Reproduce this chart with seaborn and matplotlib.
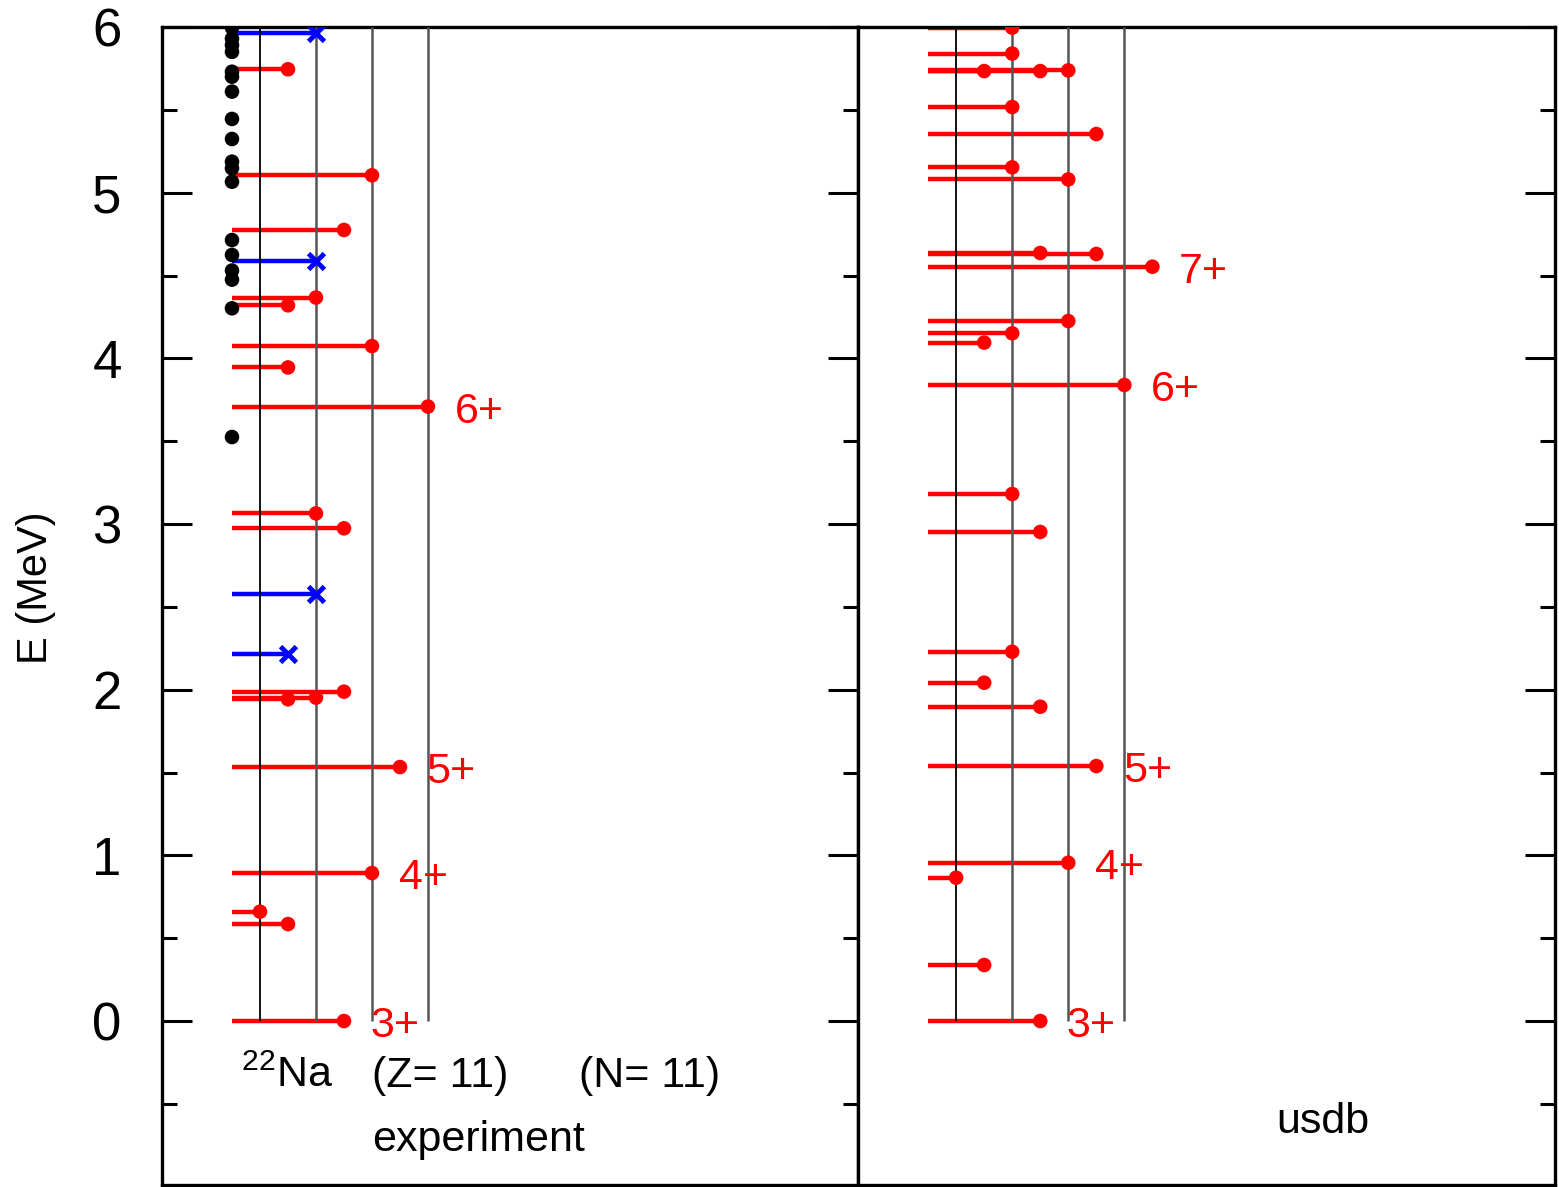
import numpy as np
import pandas as pd
import matplotlib
matplotlib.use("Agg")
import matplotlib.pyplot as plt
from matplotlib.ticker import MultipleLocator
import seaborn as sns

# ---------------- data ----------------
# experiment (22Na), positive parity levels: energy (MeV) and spin J
exp_pos_E = [0.000, 0.585, 0.660, 0.893, 1.533, 1.942, 1.952, 1.988, 2.974, 3.064,
             3.709, 3.945, 4.074, 4.320, 4.367, 4.775, 5.105, 5.745]
exp_pos_J = [3, 1, 0, 4, 5, 1, 2, 3, 3, 2, 6, 1, 4, 1, 2, 3, 4, 1]
# experiment, negative parity levels
exp_neg_E = [2.215, 2.577, 4.587, 5.966]
exp_neg_J = [1, 2, 2, 2]
# experiment, levels without spin assignment
exp_unk_E = [3.525, 4.302, 4.475, 4.530, 4.624, 4.714, 5.066, 5.147, 5.187, 5.324,
             5.445, 5.610, 5.700, 5.730, 5.850, 5.890, 5.930, 5.995]
# yrast labels (experiment)
exp_lab_E = [0.000, 0.893, 1.533, 3.709]
exp_lab_J = [3, 4, 5, 6]
exp_lab_T = ["3+", "4+", "5+", "6+"]

# usdb shell model
usdb_E = [0.000, 0.338, 0.865, 0.955, 1.539, 1.897, 2.042, 2.229, 2.952, 3.181,
          3.839, 4.095, 4.151, 4.225, 4.553, 4.636, 4.630, 5.080, 5.153, 5.354,
          5.517, 5.734, 5.734, 5.738, 5.840, 5.996]
usdb_J = [3, 1, 0, 4, 5, 3, 1, 2, 3, 2,
          6, 1, 2, 4, 7, 3, 5, 4, 2, 5,
          2, 1, 3, 4, 2, 2]
usdb_lab_E = [0.000, 0.955, 1.539, 3.839, 4.553]
usdb_lab_J = [3, 4, 5, 6, 7]
usdb_lab_T = ["3+", "4+", "5+", "6+", "7+"]

guide_J = [0, 2, 4, 6]

# ---------------- style ----------------
sns.set_theme(style="white")
plt.rcParams["font.family"] = ["Liberation Sans", "DejaVu Sans"]
plt.rcParams["mathtext.fontset"] = "custom"
plt.rcParams["mathtext.rm"] = "Liberation Sans"
plt.rcParams["mathtext.it"] = "Liberation Sans:italic"
plt.rcParams["mathtext.bf"] = "Liberation Sans:bold"
plt.rcParams["text.color"] = "black"
plt.rcParams["axes.labelcolor"] = "black"

W, H = 1559, 1187
fig = plt.figure(figsize=(W / 100, H / 100), dpi=100)
top_px, bot_px = 27, 1185
ax1 = fig.add_axes([162 / W, 1 - bot_px / H, 696 / W, (bot_px - top_px) / H])
ax2 = fig.add_axes([858 / W, 1 - bot_px / H, 697 / W, (bot_px - top_px) / H])

RED = "#ff0000"
BLUE = "#0000ff"
XSTART = -1
ylo = (1021 - bot_px) / 165.67

def draw_guides(ax):
    for j in guide_J:
        ax.vlines(j, 0, 6.0, color="black" if j == 0 else "#555555",
                  lw=1.3 if j == 0 else 1.8, zorder=3)

def levels(ax, E, J, color):
    ax.hlines(E, XSTART, J, color=color, lw=3.2, zorder=2)

# ----- experiment panel -----
draw_guides(ax1)
levels(ax1, exp_pos_E, exp_pos_J, RED)
levels(ax1, exp_neg_E, exp_neg_J, BLUE)
df_pos = pd.DataFrame({"J": exp_pos_J, "E": exp_pos_E})
df_neg = pd.DataFrame({"J": exp_neg_J, "E": exp_neg_E})
df_unk = pd.DataFrame({"J": [XSTART] * len(exp_unk_E), "E": exp_unk_E})
sns.scatterplot(data=df_pos, x="J", y="E", ax=ax1, color=RED, s=110,
                edgecolor="none", zorder=4, legend=False)
sns.scatterplot(data=df_neg, x="J", y="E", ax=ax1, color=BLUE, marker="x",
                s=130, linewidth=3.5, zorder=4, legend=False)
sns.scatterplot(data=df_unk, x="J", y="E", ax=ax1, color="black", s=110,
                edgecolor="none", zorder=5, legend=False)
for e, j, t in zip(exp_lab_E, exp_lab_J, exp_lab_T):
    ax1.text(j + 0.95, e - 0.03, t, color=RED, fontsize=31, ha="left", va="center")

ax1.text(0.96, -0.33, r"$^{22}$Na", fontsize=31, ha="center", va="center", color="black")
ax1.text(6.43, -0.33, "(Z= 11)", fontsize=31, ha="center", va="center", color="black")
ax1.text(13.93, -0.33, "(N= 11)", fontsize=31, ha="center", va="center", color="black")
ax1.text(7.79, -0.72, "experiment", fontsize=31, ha="center", va="center", color="black")

# ----- usdb panel -----
draw_guides(ax2)
levels(ax2, usdb_E, usdb_J, RED)
df_usdb = pd.DataFrame({"J": usdb_J, "E": usdb_E})
sns.scatterplot(data=df_usdb, x="J", y="E", ax=ax2, color=RED, s=110,
                edgecolor="none", zorder=4, legend=False)
for e, j, t in zip(usdb_lab_E, usdb_lab_J, usdb_lab_T):
    ax2.text(j + 0.95, e - 0.03, t, color=RED, fontsize=31, ha="left", va="center")
ax2.text(13.07, -0.61, "usdb", fontsize=31, ha="center", va="center", color="black")

# ----- axes formatting -----
for ax in (ax1, ax2):
    ax.set_xlim(-3.5, 21.36)
    ax.set_ylim(ylo, 6.0)
    ax.set_xticks([])
    ax.set_xlabel("")
    ax.set_ylabel("")
    ax.yaxis.set_major_locator(MultipleLocator(1))
    ax.yaxis.set_minor_locator(MultipleLocator(0.5))
    for sp in ax.spines.values():
        sp.set_visible(True)
        sp.set_color("black")
        sp.set_linewidth(2.4)
    ax.tick_params(axis="y", which="major", direction="in", length=21.5, width=2.2,
                   color="black")
    ax.tick_params(axis="y", which="minor", direction="in", length=10.5, width=2.2,
                   color="black")
    ax.set_facecolor("white")

ax1.tick_params(axis="y", which="both", left=True, right=True, labelleft=True,
                labelright=False)
ax1.tick_params(axis="y", which="major", labelsize=38, pad=29, labelcolor="black")
ax2.tick_params(axis="y", which="both", left=False, right=True, labelleft=False,
                labelright=False)

ax1.set_ylabel("E (MeV)", fontsize=30, color="black")
ax1.yaxis.set_label_coords(-0.152, 0.516)

fig.savefig("out.png", dpi=100, facecolor="white")
